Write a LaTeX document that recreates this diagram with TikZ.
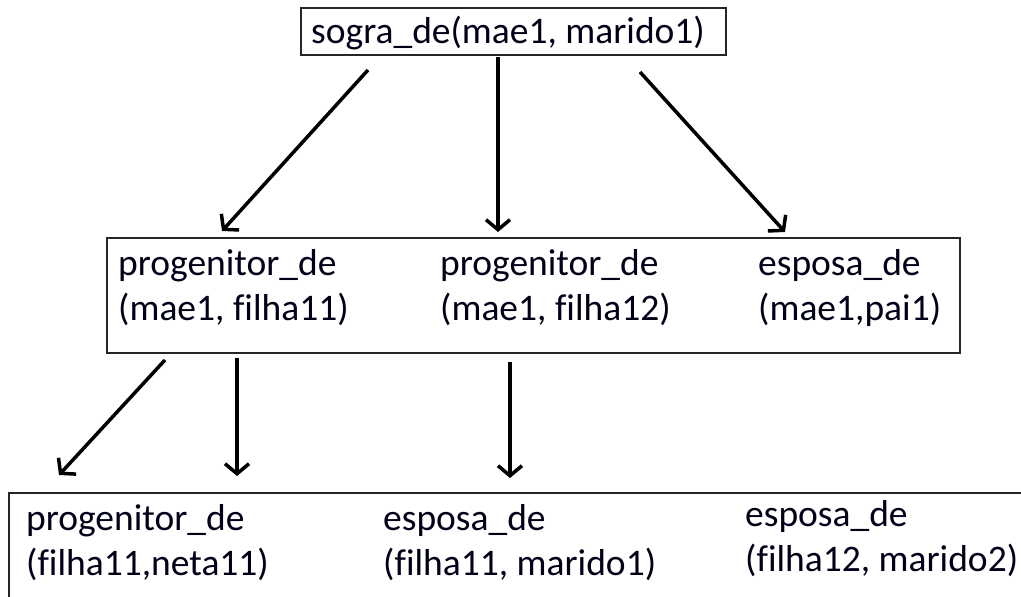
\documentclass[tikz,border=0pt]{standalone}
\usepackage{fontspec}
\setmainfont{Carlito}[Ligatures=NoCommon]
\usetikzlibrary{arrows.meta}
\begin{document}
\begin{tikzpicture}[x=1pt,y=1pt,
  boxframe/.style={draw=black!85, line width=2pt},
  lbl/.style={anchor=base west, inner sep=0pt, text=black!90!blue,
    font=\fontsize{37.5}{45}\selectfont},
  conn/.style={line width=3.5pt, -{Straight Barb[length=10pt,width=24pt,line width=3.5pt]}}]
\useasboundingbox (0,0) rectangle (1021,-597);
\clip (0,0) rectangle (1021,-597);
% boxes
\draw[boxframe] (301,-8) rectangle (726,-55);
\draw[boxframe] (107,-238) rectangle (960,-353);
\draw[boxframe] (9,-493) rectangle (1040,-620);
% top text
\node[lbl] (top) at (311,-43) {sogra\_de(mae1, marido1)};
% middle texts
\node[lbl] (m1a) at (118,-275) {progenitor\_de};
\node[lbl] (m1b) at (118,-320) {(mae1, filha11)};
\node[lbl] (m2a) at (440,-275) {progenitor\_de};
\node[lbl] (m2b) at (440,-320) {(mae1, filha12)};
\node[lbl] (m3a) at (758,-275) {esposa\_de};
\node[lbl] (m3b) at (758,-320) {(mae1,pai1)};
% bottom texts
\node[lbl] (b1a) at (26,-530) {progenitor\_de};
\node[lbl] (b1b) at (26,-575) {(filha11,neta11)};
\node[lbl] (b2a) at (383,-530) {esposa\_de};
\node[lbl] (b2b) at (383,-575) {(filha11, marido1)};
\node[lbl] (b3a) at (745,-526) {esposa\_de};
\node[lbl] (b3b) at (745,-571) {(filha12, marido2)};
% connector end points
\coordinate (s1) at (368,-70);  \coordinate (e1) at (222,-231);
\coordinate (s2) at (498,-57);  \coordinate (e2) at (498,-232);
\coordinate (s3) at (640,-72);  \coordinate (e3) at (785,-232);
\coordinate (s4) at (165,-360); \coordinate (e4) at (59,-475);
\coordinate (s5) at (237,-358); \coordinate (e5) at (237,-476);
\coordinate (s6) at (510,-362); \coordinate (e6) at (510,-478);
\draw[conn] (s1) -- (e1);
\draw[conn] (s2) -- (e2);
\draw[conn] (s3) -- (e3);
\draw[conn] (s4) -- (e4);
\draw[conn] (s5) -- (e5);
\draw[conn] (s6) -- (e6);
\end{tikzpicture}
\end{document}
